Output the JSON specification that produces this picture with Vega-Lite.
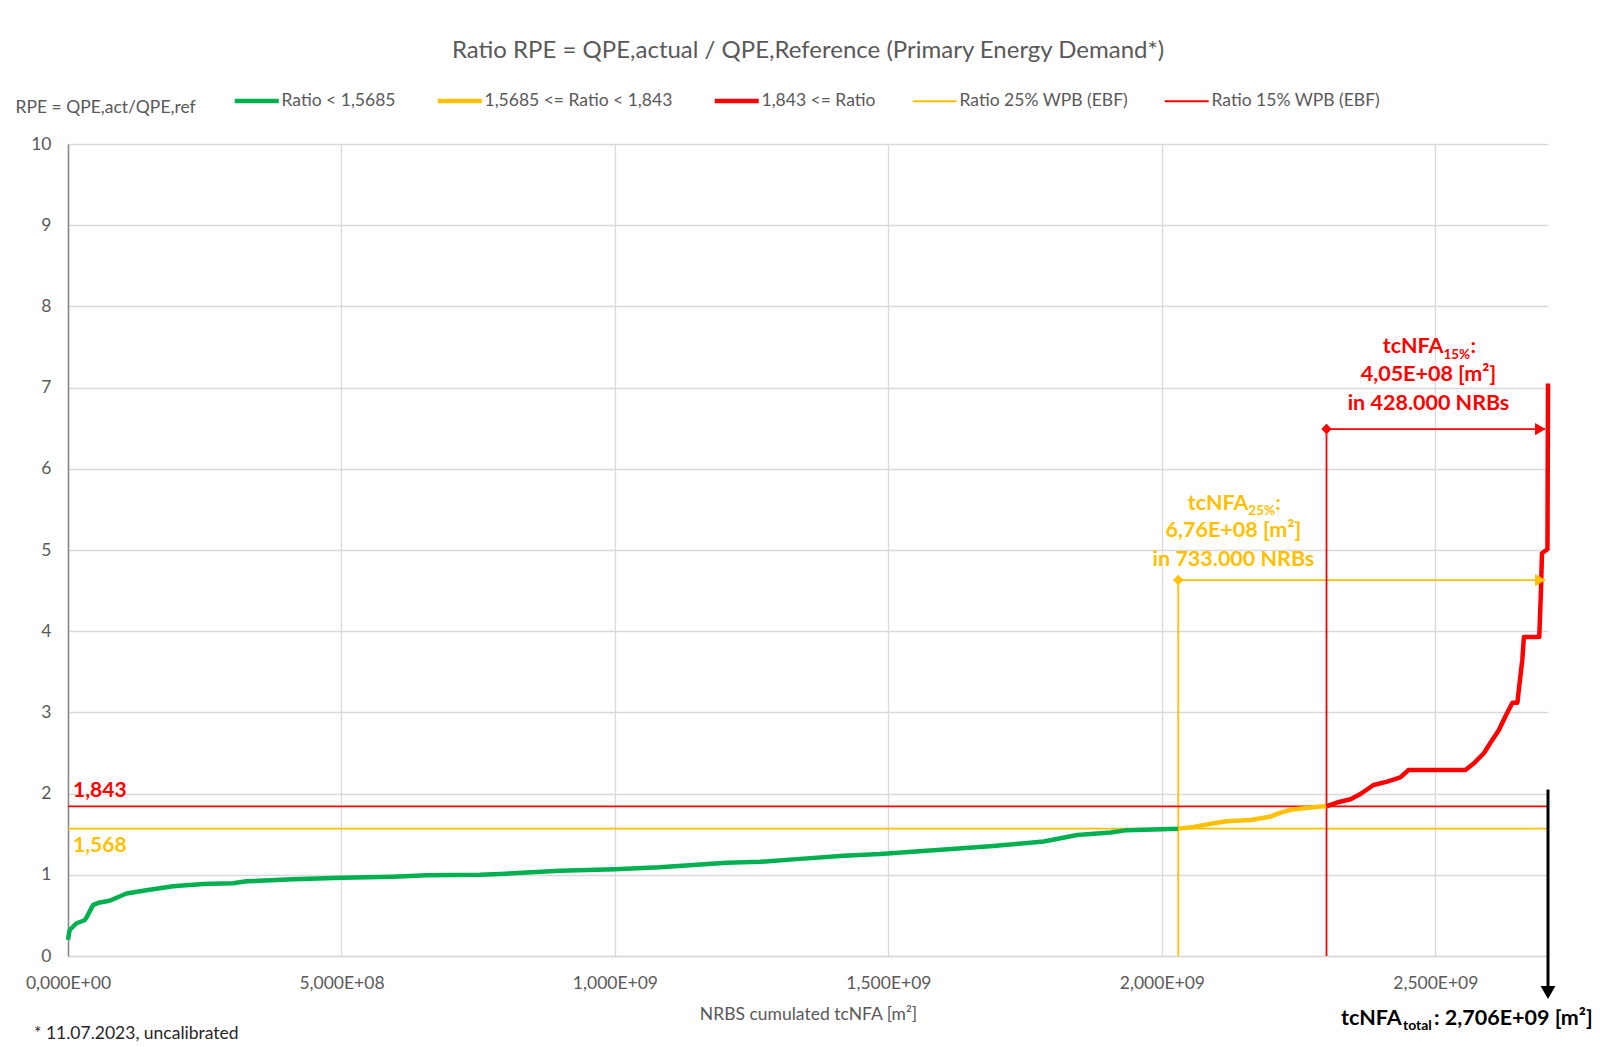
{
  "$schema": "https://vega.github.io/schema/vega-lite/v6.json",
  "width": 1480,
  "height": 812,
  "autosize": {"type": "none"},
  "padding": {"left": 68, "top": 144, "right": 52, "bottom": 91},
  "background": "white",
  "title": {"text": "Ratio RPE = QPE,actual / QPE,Reference (Primary Energy Demand*)", "font": "Lato", "fontSize": 24, "fontWeight": "normal", "color": "#595959", "anchor": "middle", "offset": 29},
  "config": {
    "font": "Lato",
    "view": {"stroke": null},
    "axis": {"labelFont": "Lato", "labelFontSize": 17.5, "labelColor": "#595959", "ticks": false, "gridColor": "#D9D9D9", "gridWidth": 1.3, "titleFont": "Lato", "titleFontSize": 17.5, "titleFontWeight": "normal", "titleColor": "#595959", "labelOverlap": false}
  },
  "datasets": {
    "thresholds": [
      {"x": 0, "x2": 2.706e9, "y": 1.5685, "y2": 1.5685, "series": "Ratio 25% WPB (EBF)"},
      {"x": 2.03e9, "x2": 2.03e9, "y": 0, "y2": 4.63, "series": "Ratio 25% WPB (EBF)"},
      {"x": 2.03e9, "x2": 2.70e9, "y": 4.63, "y2": 4.63, "series": "Ratio 25% WPB (EBF)"},
      {"x": 0, "x2": 2.706e9, "y": 1.843, "y2": 1.843, "series": "Ratio 15% WPB (EBF)"},
      {"x": 2.301e9, "x2": 2.301e9, "y": 0, "y2": 6.49, "series": "Ratio 15% WPB (EBF)"},
      {"x": 2.301e9, "x2": 2.70e9, "y": 6.49, "y2": 6.49, "series": "Ratio 15% WPB (EBF)"}
    ],
    "curve": [
      {"x": 0, "y": 0.20, "series": "Ratio < 1,5685"},
      {"x": 3e6, "y": 0.32, "series": "Ratio < 1,5685"},
      {"x": 1.5e7, "y": 0.40, "series": "Ratio < 1,5685"},
      {"x": 3.0e7, "y": 0.44, "series": "Ratio < 1,5685"},
      {"x": 3.35e7, "y": 0.47, "series": "Ratio < 1,5685"},
      {"x": 4.6e7, "y": 0.63, "series": "Ratio < 1,5685"},
      {"x": 5.8e7, "y": 0.66, "series": "Ratio < 1,5685"},
      {"x": 7.6e7, "y": 0.68, "series": "Ratio < 1,5685"},
      {"x": 1.07e8, "y": 0.77, "series": "Ratio < 1,5685"},
      {"x": 1.43e8, "y": 0.81, "series": "Ratio < 1,5685"},
      {"x": 1.92e8, "y": 0.86, "series": "Ratio < 1,5685"},
      {"x": 2.47e8, "y": 0.887, "series": "Ratio < 1,5685"},
      {"x": 3.02e8, "y": 0.895, "series": "Ratio < 1,5685"},
      {"x": 3.26e8, "y": 0.92, "series": "Ratio < 1,5685"},
      {"x": 4.11e8, "y": 0.944, "series": "Ratio < 1,5685"},
      {"x": 5.03e8, "y": 0.964, "series": "Ratio < 1,5685"},
      {"x": 5.94e8, "y": 0.977, "series": "Ratio < 1,5685"},
      {"x": 6.56e8, "y": 0.993, "series": "Ratio < 1,5685"},
      {"x": 7.53e8, "y": 1.0, "series": "Ratio < 1,5685"},
      {"x": 7.9e8, "y": 1.01, "series": "Ratio < 1,5685"},
      {"x": 8.99e8, "y": 1.05, "series": "Ratio < 1,5685"},
      {"x": 1.0e9, "y": 1.068, "series": "Ratio < 1,5685"},
      {"x": 1.082e9, "y": 1.092, "series": "Ratio < 1,5685"},
      {"x": 1.204e9, "y": 1.149, "series": "Ratio < 1,5685"},
      {"x": 1.265e9, "y": 1.16, "series": "Ratio < 1,5685"},
      {"x": 1.326e9, "y": 1.19, "series": "Ratio < 1,5685"},
      {"x": 1.418e9, "y": 1.235, "series": "Ratio < 1,5685"},
      {"x": 1.485e9, "y": 1.255, "series": "Ratio < 1,5685"},
      {"x": 1.570e9, "y": 1.297, "series": "Ratio < 1,5685"},
      {"x": 1.692e9, "y": 1.355, "series": "Ratio < 1,5685"},
      {"x": 1.784e9, "y": 1.41, "series": "Ratio < 1,5685"},
      {"x": 1.845e9, "y": 1.49, "series": "Ratio < 1,5685"},
      {"x": 1.906e9, "y": 1.52, "series": "Ratio < 1,5685"},
      {"x": 1.936e9, "y": 1.55, "series": "Ratio < 1,5685"},
      {"x": 2.030e9, "y": 1.5685, "series": "Ratio < 1,5685"},
      {"x": 2.030e9, "y": 1.5685, "series": "1,5685 <= Ratio < 1,843"},
      {"x": 2.058e9, "y": 1.59, "series": "1,5685 <= Ratio < 1,843"},
      {"x": 2.095e9, "y": 1.634, "series": "1,5685 <= Ratio < 1,843"},
      {"x": 2.119e9, "y": 1.66, "series": "1,5685 <= Ratio < 1,843"},
      {"x": 2.162e9, "y": 1.675, "series": "1,5685 <= Ratio < 1,843"},
      {"x": 2.198e9, "y": 1.716, "series": "1,5685 <= Ratio < 1,843"},
      {"x": 2.217e9, "y": 1.765, "series": "1,5685 <= Ratio < 1,843"},
      {"x": 2.235e9, "y": 1.80, "series": "1,5685 <= Ratio < 1,843"},
      {"x": 2.290e9, "y": 1.84, "series": "1,5685 <= Ratio < 1,843"},
      {"x": 2.301e9, "y": 1.843, "series": "1,5685 <= Ratio < 1,843"},
      {"x": 2.301e9, "y": 1.843, "series": "1,843 <= Ratio"},
      {"x": 2.320e9, "y": 1.89, "series": "1,843 <= Ratio"},
      {"x": 2.345e9, "y": 1.93, "series": "1,843 <= Ratio"},
      {"x": 2.363e9, "y": 1.995, "series": "1,843 <= Ratio"},
      {"x": 2.387e9, "y": 2.106, "series": "1,843 <= Ratio"},
      {"x": 2.412e9, "y": 2.147, "series": "1,843 <= Ratio"},
      {"x": 2.436e9, "y": 2.20, "series": "1,843 <= Ratio"},
      {"x": 2.451e9, "y": 2.29, "series": "1,843 <= Ratio"},
      {"x": 2.555e9, "y": 2.29, "series": "1,843 <= Ratio"},
      {"x": 2.570e9, "y": 2.37, "series": "1,843 <= Ratio"},
      {"x": 2.589e9, "y": 2.50, "series": "1,843 <= Ratio"},
      {"x": 2.601e9, "y": 2.63, "series": "1,843 <= Ratio"},
      {"x": 2.616e9, "y": 2.78, "series": "1,843 <= Ratio"},
      {"x": 2.628e9, "y": 2.95, "series": "1,843 <= Ratio"},
      {"x": 2.641e9, "y": 3.12, "series": "1,843 <= Ratio"},
      {"x": 2.650e9, "y": 3.12, "series": "1,843 <= Ratio"},
      {"x": 2.653e9, "y": 3.30, "series": "1,843 <= Ratio"},
      {"x": 2.659e9, "y": 3.645, "series": "1,843 <= Ratio"},
      {"x": 2.662e9, "y": 3.93, "series": "1,843 <= Ratio"},
      {"x": 2.690e9, "y": 3.93, "series": "1,843 <= Ratio"},
      {"x": 2.693e9, "y": 4.47, "series": "1,843 <= Ratio"},
      {"x": 2.695e9, "y": 4.96, "series": "1,843 <= Ratio"},
      {"x": 2.705e9, "y": 5.01, "series": "1,843 <= Ratio"},
      {"x": 2.706e9, "y": 7.05, "series": "1,843 <= Ratio"}
    ],
    "markers": [
      {"x": 2.03e9, "y": 4.63, "kind": "start", "series": "Ratio 25% WPB (EBF)"},
      {"x": 2.692e9, "y": 4.63, "kind": "end", "series": "Ratio 25% WPB (EBF)"},
      {"x": 2.301e9, "y": 6.49, "kind": "start", "series": "Ratio 15% WPB (EBF)"},
      {"x": 2.692e9, "y": 6.49, "kind": "end", "series": "Ratio 15% WPB (EBF)"}
    ],
    "levels": [
      {"y": 1.843, "label": "1,843", "series": "Ratio 15% WPB (EBF)"},
      {"y": 1.5685, "label": "1,568", "series": "Ratio 25% WPB (EBF)"}
    ],
    "blocks": [
      {"block": "15%", "x": 2.4874e9, "y": 7.16, "main": "tcNFA", "sub": "15%", "line2": "4,05E+08 [m²]", "line3": "in 428.000 NRBs"},
      {"block": "25%", "x": 2.1307e9, "y": 5.23, "main": "tcNFA", "sub": "25%", "line2": "6,76E+08 [m²]", "line3": "in 733.000 NRBs"}
    ],
    "total": [
      {"x": 2.706e9, "ytop": 2.05, "ytip": -0.45, "main": "tcNFA", "sub": "total", "rest": ": 2,706E+09 [m²]"}
    ],
    "notes": [
      {"text": "* 11.07.2023, uncalibrated"}
    ]
  },
  "layer": [
    {
      "data": {"name": "thresholds"},
      "mark": {"type": "rule", "strokeWidth": 1.75},
      "encoding": {
        "x": {"field": "x", "type": "quantitative", "scale": {"domain": [0, 2.706e9], "nice": false, "zero": false},
          "axis": {"values": [0, 5e8, 1e9, 1.5e9, 2e9, 2.5e9], "labelExpr": "replace(replace(format(datum.value, '.3e'), '.', ','), 'e+', 'E+0')", "labelFlush": false, "labelPadding": 18, "domainColor": "#D9D9D9", "domainWidth": 1.3, "title": "NRBS cumulated tcNFA [m²]", "titleY": 58, "titleBaseline": "middle"}},
        "x2": {"field": "x2"},
        "y": {"field": "y", "type": "quantitative", "scale": {"domain": [0, 10], "nice": false},
          "axis": {"values": [0, 1, 2, 3, 4, 5, 6, 7, 8, 9, 10], "format": "d", "domainColor": "#868686", "domainWidth": 1.5, "labelPadding": 17, "title": "RPE = QPE,act/QPE,ref", "titleAngle": 0, "titleAlign": "left", "titleBaseline": "middle", "titleX": -53, "titleY": -37}},
        "y2": {"field": "y2"},
        "color": {"field": "series", "type": "nominal",
          "scale": {"domain": ["Ratio < 1,5685", "1,5685 <= Ratio < 1,843", "1,843 <= Ratio", "Ratio 25% WPB (EBF)", "Ratio 15% WPB (EBF)"], "range": ["#00B050", "#FFC000", "#FF0000", "#FFC000", "#FF0000"]},
          "legend": {"title": null, "orient": "none", "legendX": 167, "legendY": -52, "direction": "horizontal", "symbolType": "stroke", "symbolSize": 1936, "symbolOffset": 13, "labelFont": "Lato", "labelFontSize": 17.5, "labelColor": "#595959", "labelLimit": 500, "columnPadding": 32, "labelOffset": 16, "padding": 0,
            "encode": {"symbols": {"update": {"strokeWidth": {"signal": "indexof(['Ratio 25% WPB (EBF)', 'Ratio 15% WPB (EBF)'], datum.value) >= 0 ? 2 : 4.5"}}}}}
        }
      }
    },
    {
      "data": {"name": "curve"},
      "mark": {"type": "line", "strokeWidth": 4.5, "strokeJoin": "round"},
      "encoding": {
        "x": {"field": "x", "type": "quantitative"},
        "y": {"field": "y", "type": "quantitative"},
        "color": {"field": "series", "type": "nominal"}
      }
    },
    {
      "data": {"name": "markers"},
      "transform": [{"filter": "datum.kind === 'start'"}],
      "mark": {"type": "point", "shape": "diamond", "filled": true, "opacity": 1, "size": 110},
      "encoding": {
        "x": {"field": "x", "type": "quantitative"},
        "y": {"field": "y", "type": "quantitative"},
        "color": {"condition": {"test": "datum.series === 'Ratio 15% WPB (EBF)'", "value": "#FF0000"}, "value": "#FFC000"}
      }
    },
    {
      "data": {"name": "markers"},
      "transform": [{"filter": "datum.kind === 'end'"}],
      "mark": {"type": "point", "shape": "triangle-right", "filled": true, "opacity": 1, "size": 150},
      "encoding": {
        "x": {"field": "x", "type": "quantitative"},
        "y": {"field": "y", "type": "quantitative"},
        "color": {"condition": {"test": "datum.series === 'Ratio 15% WPB (EBF)'", "value": "#FF0000"}, "value": "#FFC000"}
      }
    },
    {
      "data": {"name": "total"},
      "mark": {"type": "rule", "strokeWidth": 3, "color": "#000000"},
      "encoding": {
        "x": {"field": "x", "type": "quantitative"},
        "y": {"field": "ytop", "type": "quantitative"},
        "y2": {"field": "ytip"}
      }
    },
    {
      "data": {"name": "total"},
      "mark": {"type": "point", "shape": "triangle-down", "filled": true, "opacity": 1, "size": 220, "color": "#000000"},
      "encoding": {
        "x": {"field": "x", "type": "quantitative"},
        "y": {"field": "ytip", "type": "quantitative"}
      }
    },
    {
      "data": {"name": "total"},
      "mark": {"type": "text", "font": "Lato", "fontWeight": "bold", "fontSize": 21.5, "align": "left", "baseline": "alphabetic", "dx": -207, "dy": 32, "color": "#000000"},
      "encoding": {
        "x": {"field": "x", "type": "quantitative"},
        "y": {"field": "ytip", "type": "quantitative"},
        "text": {"field": "main"}
      }
    },
    {
      "data": {"name": "total"},
      "mark": {"type": "text", "font": "Lato", "fontWeight": "bold", "fontSize": 14, "align": "left", "baseline": "alphabetic", "dx": -145, "dy": 37, "color": "#000000"},
      "encoding": {
        "x": {"field": "x", "type": "quantitative"},
        "y": {"field": "ytip", "type": "quantitative"},
        "text": {"field": "sub"}
      }
    },
    {
      "data": {"name": "total"},
      "mark": {"type": "text", "font": "Lato", "fontWeight": "bold", "fontSize": 21.5, "align": "left", "baseline": "alphabetic", "dx": -114, "dy": 32, "color": "#000000"},
      "encoding": {
        "x": {"field": "x", "type": "quantitative"},
        "y": {"field": "ytip", "type": "quantitative"},
        "text": {"field": "rest"}
      }
    },
    {
      "data": {"name": "levels"},
      "transform": [{"filter": "datum.series === 'Ratio 15% WPB (EBF)'"}],
      "mark": {"type": "text", "font": "Lato", "fontWeight": "bold", "fontSize": 21, "align": "left", "baseline": "alphabetic", "dx": 5, "dy": -9, "color": "#FF0000"},
      "encoding": {
        "x": {"datum": 0, "type": "quantitative"},
        "y": {"field": "y", "type": "quantitative"},
        "text": {"field": "label"}
      }
    },
    {
      "data": {"name": "levels"},
      "transform": [{"filter": "datum.series === 'Ratio 25% WPB (EBF)'"}],
      "mark": {"type": "text", "font": "Lato", "fontWeight": "bold", "fontSize": 21, "align": "left", "baseline": "alphabetic", "dx": 5, "dy": 23, "color": "#FFC000"},
      "encoding": {
        "x": {"datum": 0, "type": "quantitative"},
        "y": {"field": "y", "type": "quantitative"},
        "text": {"field": "label"}
      }
    },
    {
      "data": {"name": "blocks"},
      "mark": {"type": "text", "font": "Lato", "fontWeight": "bold", "fontSize": 21.5, "align": "center", "baseline": "middle"},
      "encoding": {
        "x": {"field": "x", "type": "quantitative"},
        "y": {"field": "y", "type": "quantitative"},
        "text": {"field": "line2"},
        "color": {"condition": {"test": "datum.block === '15%'", "value": "#FF0000"}, "value": "#FFC000"}
      }
    },
    {
      "data": {"name": "blocks"},
      "mark": {"type": "text", "font": "Lato", "fontWeight": "bold", "fontSize": 21.5, "align": "center", "baseline": "middle", "dy": 29},
      "encoding": {
        "x": {"field": "x", "type": "quantitative"},
        "y": {"field": "y", "type": "quantitative"},
        "text": {"field": "line3"},
        "color": {"condition": {"test": "datum.block === '15%'", "value": "#FF0000"}, "value": "#FFC000"}
      }
    },
    {
      "data": {"name": "blocks"},
      "mark": {"type": "text", "font": "Lato", "fontWeight": "bold", "fontSize": 21.5, "align": "right", "baseline": "alphabetic", "dx": 15, "dy": -21.5},
      "encoding": {
        "x": {"field": "x", "type": "quantitative"},
        "y": {"field": "y", "type": "quantitative"},
        "text": {"field": "main"},
        "color": {"condition": {"test": "datum.block === '15%'", "value": "#FF0000"}, "value": "#FFC000"}
      }
    },
    {
      "data": {"name": "blocks"},
      "mark": {"type": "text", "font": "Lato", "fontWeight": "bold", "fontSize": 13.5, "align": "left", "baseline": "alphabetic", "dx": 15, "dy": -16},
      "encoding": {
        "x": {"field": "x", "type": "quantitative"},
        "y": {"field": "y", "type": "quantitative"},
        "text": {"field": "sub"},
        "color": {"condition": {"test": "datum.block === '15%'", "value": "#FF0000"}, "value": "#FFC000"}
      }
    },
    {
      "data": {"name": "blocks"},
      "mark": {"type": "text", "font": "Lato", "fontWeight": "bold", "fontSize": 21.5, "align": "left", "baseline": "alphabetic", "dx": 42, "dy": -21.5},
      "encoding": {
        "x": {"field": "x", "type": "quantitative"},
        "y": {"field": "y", "type": "quantitative"},
        "text": {"value": ":"},
        "color": {"condition": {"test": "datum.block === '15%'", "value": "#FF0000"}, "value": "#FFC000"}
      }
    },
    {
      "data": {"name": "notes"},
      "mark": {"type": "text", "font": "Lato", "fontSize": 17.5, "align": "left", "baseline": "middle", "dx": -34, "dy": 78, "color": "#262626"},
      "encoding": {
        "x": {"datum": 0, "type": "quantitative"},
        "y": {"datum": 0, "type": "quantitative"},
        "text": {"field": "text"}
      }
    }
  ]
}
